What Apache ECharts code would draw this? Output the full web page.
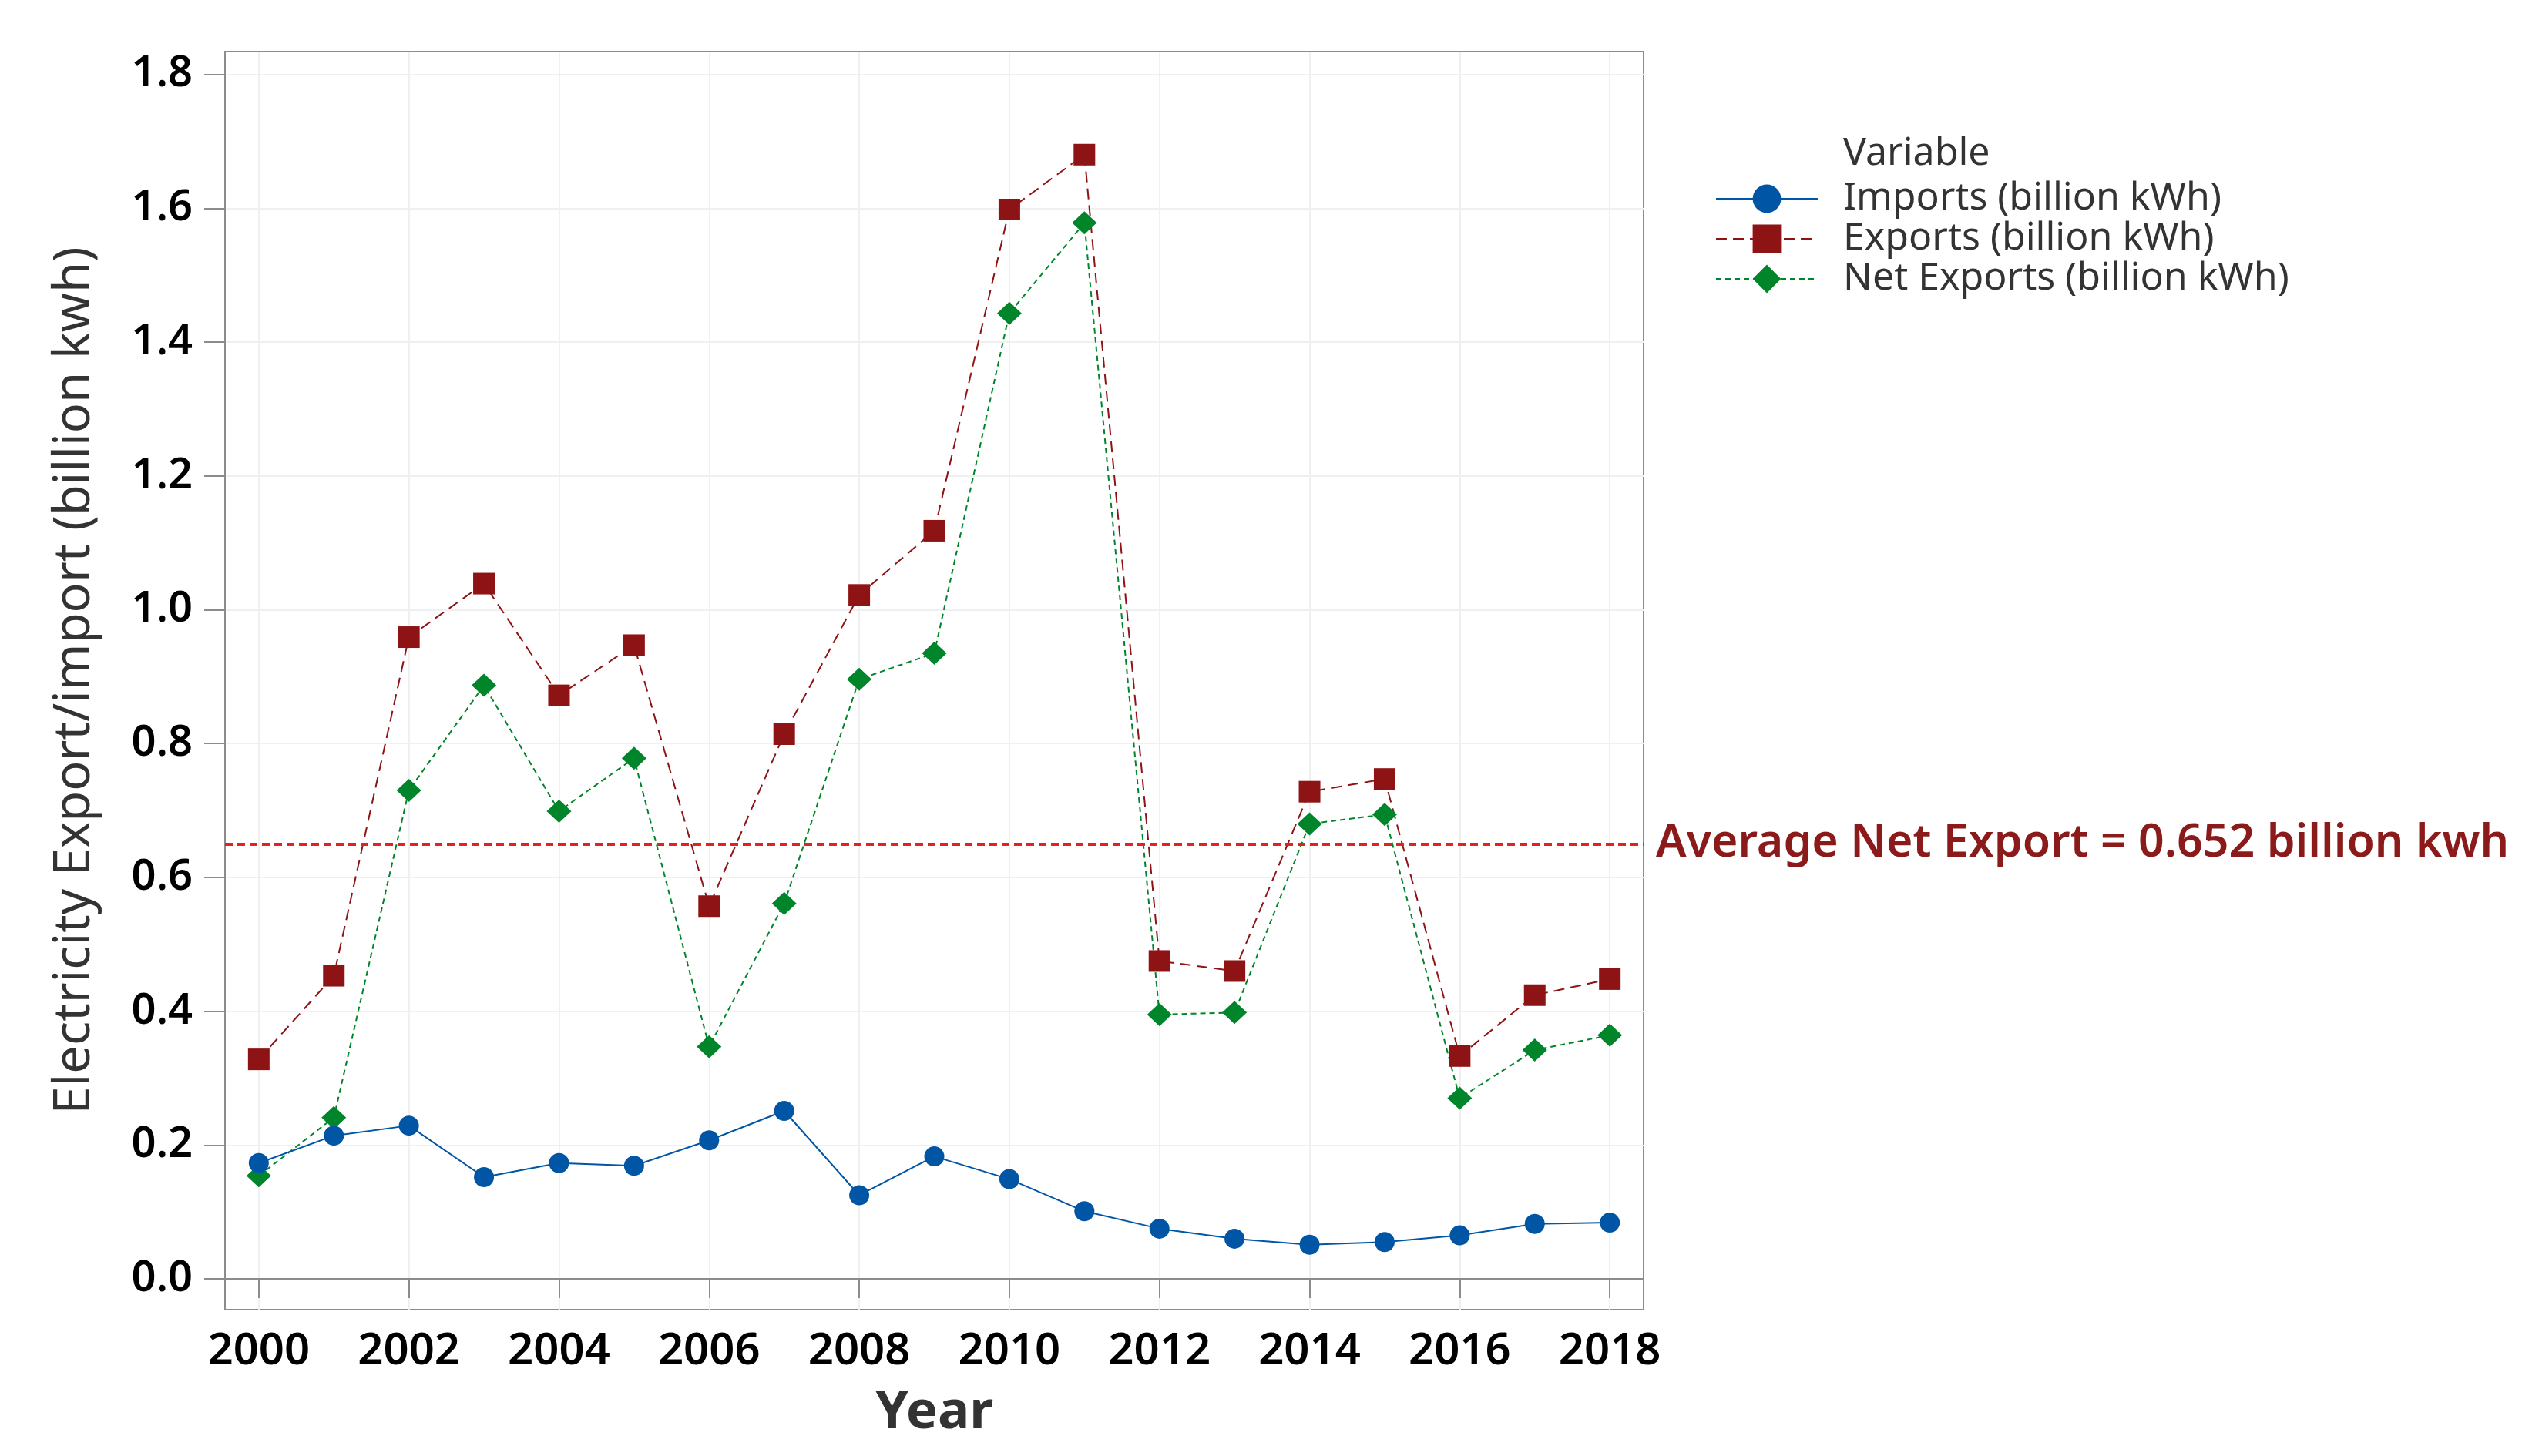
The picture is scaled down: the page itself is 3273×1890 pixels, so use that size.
<!DOCTYPE html>
<html>
<head>
<meta charset="utf-8">
<script src="https://cdn.jsdelivr.net/npm/echarts@6/dist/echarts.min.js"></script>
<style>html,body{margin:0;padding:0;background:#fff}#c{width:3273px;height:1890px}</style>
</head>
<body>
<div id="c"></div>
<script>
const years = [2000,2001,2002,2003,2004,2005,2006,2007,2008,2009,2010,2011,2012,2013,2014,2015,2016,2017,2018];
const imports = [0.173,0.214,0.229,0.152,0.173,0.169,0.207,0.251,0.125,0.183,0.149,0.101,0.075,0.060,0.051,0.055,0.065,0.082,0.084];
const exportsV = [0.328,0.453,0.959,1.039,0.872,0.947,0.557,0.814,1.022,1.118,1.598,1.680,0.475,0.460,0.728,0.747,0.333,0.424,0.448];
const netExports = [0.154,0.241,0.730,0.887,0.699,0.778,0.347,0.561,0.896,0.935,1.443,1.578,0.395,0.398,0.680,0.694,0.270,0.342,0.364];
const yTicks = [0,0.2,0.4,0.6,0.8,1.0,1.2,1.4,1.6,1.8];
const xTicks = [2000,2002,2004,2006,2008,2010,2012,2014,2016,2018];
const avgNet = 0.652;
const seriesNames = ['Imports (billion kWh)','Exports (billion kWh)','Net Exports (billion kWh)'];

const pairs = arr => years.map((y,i)=>[y,arr[i]]);
const FONT = '"Noto Sans", "Open Sans", sans-serif';
const chart = echarts.init(document.getElementById('c'));
chart.setOption({
  animation:false,
  backgroundColor:'#fff',
  grid:{left:292,right:1140,top:67,bottom:190,show:true,borderColor:'#8c8c8c',borderWidth:2,backgroundColor:'transparent'},
  graphic:[{type:'text',left:2392,top:175,style:{text:'Variable',font:'50px '+FONT,fill:'#333'}}],
  legend:{
    orient:'vertical',left:2221,top:228,itemWidth:132,itemHeight:46,itemGap:2,
    data:seriesNames,
    textStyle:{fontFamily:FONT,fontSize:50,color:'#333',lineHeight:50,padding:[0,0,0,28]}
  },
  xAxis:{
    type:'value',min:1999.55,max:2018.45,
    name:'Year',nameLocation:'middle',nameGap:100,
    nameTextStyle:{fontFamily:FONT,fontSize:69,fontWeight:'bold',color:'#333'},
    axisLine:{show:true,lineStyle:{color:'#8c8c8c',width:2}},
    axisTick:{show:true,length:25,lineStyle:{color:'#8c8c8c',width:2},customValues:xTicks},
    axisLabel:{customValues:xTicks,margin:25,fontFamily:FONT,fontSize:58,fontWeight:600,color:'#000',formatter:v=>String(Math.round(v))},
    splitLine:{show:true,lineStyle:{color:'#f0f0f0',width:2}}
  },
  yAxis:{
    type:'value',min:-0.046,max:1.834,
    name:'Electricity Export/import (billion kwh)',nameLocation:'middle',nameGap:162,
    nameTextStyle:{fontFamily:FONT,fontSize:65,fontWeight:'normal',color:'#333'},
    axisLine:{show:true,lineStyle:{color:'#8c8c8c',width:2}},
    axisTick:{show:true,length:27,lineStyle:{color:'#8c8c8c',width:2},customValues:yTicks},
    axisLabel:{customValues:yTicks,margin:42,fontFamily:FONT,fontSize:56,fontWeight:600,color:'#000',formatter:v=>v.toFixed(1)},
    splitLine:{show:true,lineStyle:{color:'#f0f0f0',width:2}}
  },
  series:[
    {name:seriesNames[0],type:'line',data:pairs(imports),symbol:'circle',symbolSize:26,
     itemStyle:{color:'#0055a5'},lineStyle:{color:'#0055a5',width:2,type:'solid'},z:3},
    {name:seriesNames[1],type:'line',data:pairs(exportsV),symbol:'rect',symbolSize:28,
     itemStyle:{color:'#8e1315'},lineStyle:{color:'#8e1315',width:2,type:[14,8]},z:2},
    {name:seriesNames[2],type:'line',data:pairs(netExports),symbol:'diamond',symbolSize:[32,30],
     itemStyle:{color:'#00852b'},lineStyle:{color:'#00852b',width:2,type:[7,5]},z:2,
     markLine:{silent:true,symbol:'none',animation:false,
       lineStyle:{color:'#e3211f',width:4,type:[10,6]},
       label:{position:'end',distance:16,formatter:'Average Net Export = '+avgNet+' billion kwh',
         fontFamily:FONT,fontSize:59,fontWeight:600,color:'#8b1a1a',padding:[62,0,0,0]},
       data:[{yAxis:avgNet}]}}
  ]
});
</script>
</body>
</html>
